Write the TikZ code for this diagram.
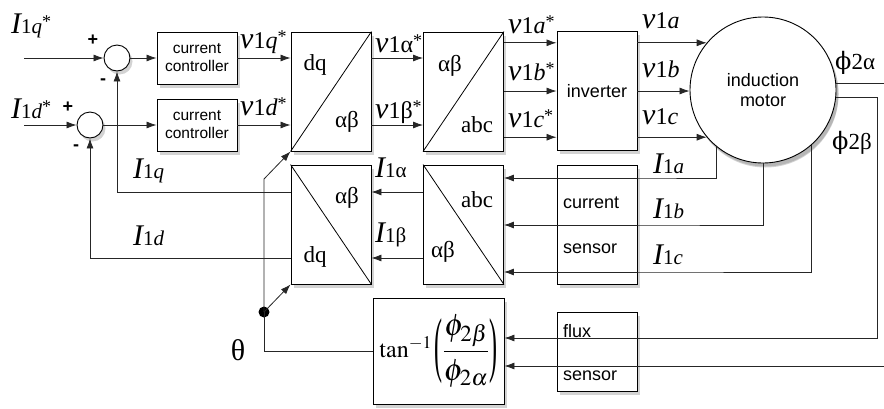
\documentclass[tikz,border=0pt]{standalone}
\usepackage{graphicx}
\usepackage{mathptmx}
\usepackage{fontspec}
\setmainfont{Liberation Serif}
\newfontfamily\hv{Liberation Sans}
\newfontfamily\dvs{DejaVu Serif}
\usetikzlibrary{arrows.meta,shadows}
\newcommand\Ilab[1]{{\fontsize{30}{30}\selectfont\itshape I}{\fontsize{21}{21}\selectfont 1#1}}
\newcommand\vlab[1]{{\fontsize{30}{30}\selectfont\itshape v}{\fontsize{24}{24}\selectfont 1#1}}
\newcommand\astk{\raisebox{0.55em}{\fontsize{18}{18}\selectfont *}}
\newcommand\tallparen[1]{\vcenter{\hbox{\scalebox{1}[3.0]{#1}}}}
\newcommand\bigfrac{\vcenter{\hbox{\fontsize{31}{34}\selectfont$\displaystyle\frac{\phi_{2\beta}}{\phi_{2\alpha}}$}}}
\begin{document}
\begin{tikzpicture}[x=1pt,y=-1pt,
  shad/.style={drop shadow={opacity=0.35,shadow xshift=2.5pt,shadow yshift=-3.5pt}},
  blk/.style={draw,line width=0.9pt,fill=white,inner sep=0pt,shad},
  ln/.style={line width=0.8pt,draw=black!85},
  arr/.style={ln,-{Latex[length=10pt,width=7pt]}},
  sumc/.style={circle,draw,line width=0.9pt,fill=white,minimum size=26pt,inner sep=0pt,shad},
  lab/.style={anchor=base west,inner sep=0pt},
  ser/.style={inner sep=0pt,font=\fontsize{23}{23}\selectfont},
  sgn/.style={inner sep=0pt,font=\hv\bfseries\fontsize{18}{18}\selectfont},
  ctl/.style={blk,minimum width=80pt,minimum height=52pt,align=center,font=\hv\fontsize{15.5}{18}\selectfont},
  tall/.style={blk,minimum width=80pt,minimum height=119pt},
  sfont/.style={font=\hv\fontsize{18}{20}\selectfont}
]
\useasboundingbox (0,0) rectangle (884,408);
% nodes
\node[sumc] (s1) at (117,58) {};
\node[sumc] (s2) at (90,125) {};
\node[ctl] (cc1) at (197,58) {current\\controller};
\node[ctl] (cc2) at (197,125) {current\\controller};
\node[tall] (dq1) at (331,91.5) {};
\node[tall] (ab1) at (463.5,91.5) {};
\node[tall,sfont] (inv) at (597,91) {inverter};
\node[blk,circle,minimum size=146pt,align=center,sfont,drop shadow={opacity=0.35,shadow xshift=2.5pt,shadow yshift=-4.5pt}] (motor) at (763,90) {induction\\motor};
\node[tall] (dq2) at (331,224.5) {};
\node[tall] (ab2) at (463.5,224.5) {};
\node[tall] (cs) at (597,224.5) {};
\node[blk,minimum width=131pt,minimum height=106pt] (tanb) at (438.5,351) {\fontsize{24}{28}\selectfont$\tan^{-1}\tallparen{(}\bigfrac\tallparen{)}$};
\node[blk,minimum width=80pt,minimum height=79pt] (fs) at (597,351.5) {};
\node[circle,fill=black,minimum size=11pt,inner sep=0pt] (dot) at (264,312) {};
% diagonals
\draw[line width=0.8pt] (dq1.south west) -- (dq1.north east);
\draw[line width=0.8pt] (ab1.south west) -- (ab1.north east);
\draw[line width=0.8pt] (dq2.north west) -- (dq2.south east);
\draw[line width=0.8pt] (ab2.north west) -- (ab2.south east);
% box texts
\node[ser] (t1) at (315,65) {dq};
\node[ser] (t2) at (347,122) {αβ};
\node[ser] (t3) at (450,66) {αβ};
\node[ser] (t4) at (477,125) {abc};
\node[ser] (t5) at (347,198) {αβ};
\node[ser] (t6) at (315,257) {dq};
\node[ser] (t7) at (477,200) {abc};
\node[ser] (t8) at (443,252) {αβ};
\node[sfont,anchor=west,inner sep=0pt] (cst1) at (563,203) {current};
\node[sfont,anchor=west,inner sep=0pt] (cst2) at (563,249) {sensor};
\node[sfont,anchor=west,inner sep=0pt] (fst1) at (563,331) {flux};
\node[sfont,anchor=west,inner sep=0pt] (fst2) at (563,376) {sensor};
% coordinates
\coordinate (in1) at (24,58);
\coordinate (in2) at (24,125);
\coordinate (ya) at (0,192);
\coordinate (yb) at (0,258);
\coordinate (ia) at (0,178);
\coordinate (ib) at (0,225);
\coordinate (ic) at (0,272);
\coordinate (bend) at (264,179);
\coordinate (p2b) at (877,0);
\coordinate (fa) at (0,338);
\coordinate (fb) at (0,366);
\coordinate (redge) at (884,0);
% forward path
\draw[arr] (in1) -- (s1);
\draw[arr] (in2) -- (s2);
\draw[arr] (s1) -- (cc1);
\draw[arr] (s2) -- (cc2);
\draw[arr] (cc1) -- (dq1.west |- cc1);
\draw[arr] (cc2) -- (dq1.west |- cc2);
\draw[arr] (dq1.east |- cc1) -- (ab1.west |- cc1);
\draw[arr] (dq1.east |- cc2) -- (ab1.west |- cc2);
\draw[arr] (ab1.east |- motor.140) -- (inv.west |- motor.140);
\draw[arr] (ab1.east |- inv) -- (inv.west);
\draw[arr] (ab1.east |- motor.220) -- (inv.west |- motor.220);
\draw[arr] (inv.east |- motor.140) -- (motor.140);
\draw[arr] (inv.east) -- (inv.east -| motor.west);
\draw[arr] (inv.east |- motor.220) -- (motor.220);
% current feedback
\draw[arr] (motor.231) |- (ia -| cs.east) -- (ab2.east |- ia);
\draw[arr] (motor.south) |- (ib -| cs.east) -- (ab2.east |- ib);
\draw[arr] (motor.311) |- (ic -| cs.east) -- (ab2.east |- ic);
\draw[ln] (cs.east |- ia) -- (cs.west |- ia);
\draw[ln] (cs.east |- ib) -- (cs.west |- ib);
\draw[ln] (cs.east |- ic) -- (cs.west |- ic);
\draw[arr] (ab2.west |- ya) -- (dq2.east |- ya);
\draw[arr] (ab2.west |- yb) -- (dq2.east |- yb);
\draw[arr] (dq2.west |- ya) -| (s1.south);
\draw[arr] (dq2.west |- yb) -| (s2.south);
% flux
\draw[ln] (motor.5) -- (redge |- motor.5);
\draw[arr] (motor.-6) -| (p2b |- fa) -- (tanb.east |- fa);
\draw[arr] (redge |- fb) -- (tanb.east |- fb);
% theta
\draw[ln] (tanb.west) -| (dot.center);
\draw[arr] (dot.center) -- (dq2.south west);
\draw[arr] (dot.center) -- (bend) -- (dq1.south west);
% signs
\node[sgn] (pl1) at (93,40) {+};
\node[sgn] (mi1) at (103,82) {-};
\node[sgn] (pl2) at (68,107) {+};
\node[sgn] (mi2) at (76,148) {-};
% labels
\node[lab] (l1) at (11,33) {\Ilab{\textit{q}}\astk};
\node[lab] (l2) at (11,118) {\Ilab{\textit{d}}\astk};
\node[lab] (l3) at (240,48) {\vlab{\textit{q}}\astk};
\node[lab] (l4) at (240,115) {\vlab{\textit{d}}\astk};
\node[lab] (l5) at (375,52) {\vlab{α}\astk};
\node[lab] (l6) at (375,118) {\vlab{β}\astk};
\node[lab] (l7) at (508,33) {\vlab{\textit{a}}\astk};
\node[lab] (l8) at (508,80) {\vlab{\textit{b}}\astk};
\node[lab] (l9) at (508,127) {\vlab{\textit{c}}\astk};
\node[lab] (l10) at (642,28) {\vlab{\textit{a}}};
\node[lab] (l11) at (642,77) {\vlab{\textit{b}}};
\node[lab] (l12) at (642,124) {\vlab{\textit{c}}};
\node[lab] (l13) at (133,178) {\Ilab{\textit{q}}};
\node[lab] (l14) at (133,245) {\Ilab{\textit{d}}};
\node[lab] (l15) at (375,177) {\Ilab{α}};
\node[lab] (l16) at (375,242) {\Ilab{β}};
\node[lab] (l17) at (653,173) {\Ilab{\textit{a}}};
\node[lab] (l18) at (653,218) {\Ilab{\textit{b}}};
\node[lab] (l19) at (653,264) {\Ilab{\textit{c}}};
\node[lab] (l20) at (835,69) {{\dvs\fontsize{24}{24}\selectfont ϕ}{\fontsize{23}{23}\selectfont 2α}};
\node[lab] (l21) at (832,149) {{\dvs\fontsize{24}{24}\selectfont ϕ}{\fontsize{23}{23}\selectfont 2β}};
\node[inner sep=0pt,font=\fontsize{30}{30}\selectfont] (th) at (238,350) {θ};
\end{tikzpicture}
\end{document}
